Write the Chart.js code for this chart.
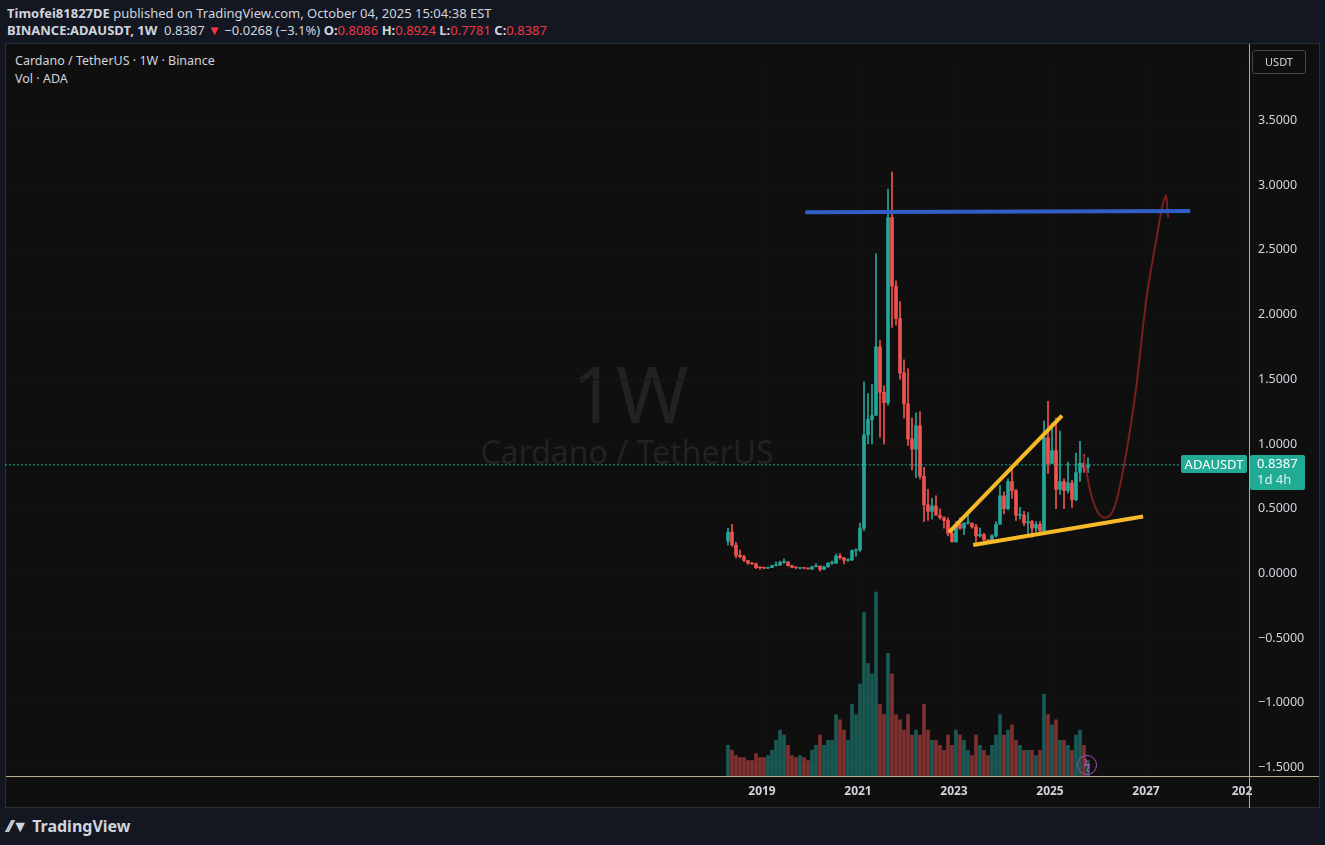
<!DOCTYPE html>
<html>
<head>
<meta charset="utf-8">
<script src="https://cdn.jsdelivr.net/npm/chart.js@4.4.0/dist/chart.umd.min.js"></script>
<style>
  body { margin: 0; background: #131722; font-family: "Noto Sans", "Open Sans", sans-serif; width: 1325px; height: 845px; overflow: hidden; position: relative; color: #d1d4dc; }
  .hdr { position: absolute; left: 7px; font-size: 13px; white-space: nowrap; }
  .hdr b { font-weight: 700; }
  .red { color: #f23645; }
  #panel { position: absolute; left: 5px; top: 43px; width: 1315px; height: 765px; background: #0f0f0f; border: 1px solid #2a2e39; box-sizing: border-box; }
  #wrap { position: absolute; left: 5px; top: 43px; width: 1315px; height: 765px; }
  .wm { position: absolute; color: #222222; text-align: center; white-space: nowrap; }
  .legend { position: absolute; left: 15px; font-size: 12.5px; color: #d1d4dc; }
  .tag { position: absolute; background: #22ab94; color: #fff; font-size: 13px; border-radius: 2px; }
  .vline { position: absolute; left: 1249px; top: 44px; width: 1px; height: 764px; background: #b7ad8a; }
  .hline { position: absolute; left: 6px; top: 776px; width: 1313px; height: 1px; background: #b7ad8a; }
</style>
</head>
<body>
<div class="hdr" style="top:4px"><b>Timofei81827DE</b> published on TradingView.com, October 04, 2025 15:04:38 EST</div>
<div class="hdr" style="top:21px"><b>BINANCE:ADAUSDT, 1W</b>&nbsp; 0.8387 <span class="red">▼</span> −0.0268 (−3.1%) <b>O:</b><span class="red">0.8086</span> <b>H:</b><span class="red">0.8924</span> <b>L:</b><span class="red">0.7781</span> <b>C:</b><span class="red">0.8387</span></div>
<div id="panel"></div>
<div class="wm" style="left:530px;top:340px;width:200px;font-size:78px;">1W</div>
<div class="wm" style="left:427px;top:430px;width:400px;font-size:32px;">Cardano / TetherUS</div>
<div class="legend" style="top:52px">Cardano / TetherUS · 1W · Binance</div>
<div class="legend" style="top:70px">Vol · ADA</div>
<div id="wrap"><canvas id="c"></canvas></div>
<div class="vline"></div>
<div class="hline"></div>
<div style="position:absolute;left:1252px;top:50px;width:52px;height:22px;border:1px solid #434651;border-radius:3px;font-size:11px;line-height:22px;text-align:center;color:#d1d4dc;">USDT</div>
<div class="tag" style="left:1181px;top:455px;width:66px;height:18px;line-height:18px;text-align:center;">ADAUSDT</div>
<div class="tag" style="left:1250px;top:455px;width:55px;height:35px;line-height:16px;padding-left:7px;box-sizing:border-box;">0.8387<br><span style="color:#d6f2ee">1d 4h</span></div>
<div style="position:absolute;left:1077px;top:755px;width:18px;height:18px;border:1.5px solid #a64bbd;border-radius:50%;color:#b95ad0;font-size:12px;line-height:18px;text-align:center;">ϟ</div>
<div style="position:absolute;left:8px;top:815px;font-size:16px;font-weight:700;color:#d1d4dc;">⁄⁄▼ TradingView</div>
<script>
// Monthly ADA/USDT candles, Apr 2018 .. Oct 2025 (open = previous close)
const firstOpen = 0.25;
const closes = [
  0.32, 0.22, 0.14, 0.13, 0.10, 0.08, 0.074, 0.045, 0.041,
  0.040, 0.045, 0.060, 0.065, 0.085, 0.090, 0.060, 0.046, 0.040, 0.040, 0.037, 0.033,
  0.052, 0.056, 0.032, 0.050, 0.080, 0.080, 0.134, 0.121, 0.101, 0.105, 0.176, 0.181,
  0.35, 1.07, 1.19, 1.22, 1.75, 1.40, 1.32, 2.75, 2.22, 1.97, 1.55, 1.31,
  1.04, 0.96, 1.14, 0.75, 0.53, 0.48, 0.52, 0.45, 0.43, 0.41, 0.31, 0.245,
  0.38, 0.35, 0.39, 0.39, 0.36, 0.29, 0.30, 0.26, 0.25, 0.29, 0.38, 0.60,
  0.50, 0.71, 0.64, 0.45, 0.45, 0.39, 0.40, 0.35, 0.38, 0.33, 1.05, 0.85,
  0.95, 0.65, 0.71, 0.64, 0.70, 0.57, 0.78, 0.85, 0.82, 0.8387
];
const highs = [
  0.35, 0.38, 0.24, 0.18, 0.14, 0.10, 0.086, 0.08, 0.05,
  0.05, 0.05, 0.065, 0.09, 0.096, 0.11, 0.09, 0.062, 0.05, 0.046, 0.047, 0.04,
  0.056, 0.076, 0.058, 0.057, 0.084, 0.098, 0.15, 0.153, 0.124, 0.115, 0.183, 0.19,
  0.39, 1.48, 1.39, 1.46, 2.47, 1.80, 1.45, 2.97, 3.10, 2.26, 2.10, 1.65,
  1.58, 1.20, 1.24, 1.25, 0.82, 0.65, 0.58, 0.60, 0.50, 0.44, 0.43, 0.33,
  0.40, 0.43, 0.39, 0.46, 0.39, 0.38, 0.35, 0.31, 0.26, 0.30, 0.40, 0.68,
  0.63, 0.73, 0.81, 0.65, 0.51, 0.48, 0.47, 0.41, 0.40, 0.40, 1.18, 1.33,
  1.16, 1.20, 1.10, 0.73, 0.86, 0.72, 0.93, 1.02, 0.92, 0.8924
];
const lows = [
  0.22, 0.21, 0.12, 0.12, 0.09, 0.07, 0.07, 0.037, 0.031,
  0.036, 0.038, 0.044, 0.058, 0.06, 0.077, 0.057, 0.043, 0.035, 0.034, 0.035, 0.031,
  0.032, 0.05, 0.018, 0.03, 0.048, 0.069, 0.078, 0.11, 0.073, 0.093, 0.099, 0.133,
  0.17, 0.33, 1.00, 1.00, 1.30, 1.05, 1.00, 1.30, 1.90, 1.92, 1.50, 1.20,
  0.99, 0.80, 0.74, 0.73, 0.40, 0.41, 0.42, 0.45, 0.42, 0.35, 0.29, 0.24,
  0.24, 0.34, 0.30, 0.38, 0.35, 0.22, 0.28, 0.24, 0.24, 0.24, 0.28, 0.38,
  0.46, 0.49, 0.58, 0.41, 0.42, 0.37, 0.30, 0.28, 0.32, 0.31, 0.32, 0.77,
  0.85, 0.50, 0.61, 0.50, 0.62, 0.51, 0.56, 0.71, 0.78, 0.7781
];
const volumes = [
  30, 25, 20, 18, 18, 15, 15, 22, 18,
  18, 20, 25, 35, 45, 40, 30, 20, 18, 20, 18, 15,
  25, 30, 40, 30, 35, 35, 60, 55, 45, 35, 70, 60,
  90, 160, 110, 100, 180, 70, 60, 120, 100, 60, 55, 45,
  60, 40, 45, 40, 70, 45, 35, 35, 30, 25, 40, 30,
  45, 40, 35, 25, 20, 40, 30, 25, 20, 30, 40, 60,
  40, 45, 50, 35, 30, 25, 25, 25, 20, 25, 80, 60,
  50, 55, 35, 35, 30, 25, 40, 45, 30, 15
];
const startMonth = 3; // April 2018
const yearTicks = [2019, 2021, 2023, 2025, 2027, 2029];
const yearLabels = ['2019', '2021', '2023', '2025', '2027', '202'];
const priceTicks = [-1.5, -1, -0.5, 0, 0.5, 1, 1.5, 2, 2.5, 3, 3.5];
const lastPrice = 0.8387;

// Drawings
const resistance = [{ x: 2019.9, y: 2.79 }, { x: 2027.92, y: 2.80 }];
const upperTrend = [{ x: 2022.9, y: 0.32 }, { x: 2025.25, y: 1.22 }];
const lowerTrend = [{ x: 2023.4, y: 0.22 }, { x: 2026.94, y: 0.44 }];
const forecast = [
  { x: 2025.69, y: 0.92 }, { x: 2025.85, y: 0.62 }, { x: 2026.0, y: 0.47 }, { x: 2026.15, y: 0.43 },
  { x: 2026.35, y: 0.52 }, { x: 2026.55, y: 0.85 }, { x: 2026.8, y: 1.45 }, { x: 2027.0, y: 2.1 },
  { x: 2027.2, y: 2.55 }, { x: 2027.35, y: 2.85 }, { x: 2027.42, y: 2.92 }, { x: 2027.46, y: 2.75 }
];

const X_MIN = 2003.229, X_MAX = 2029.125;
const UP = '#26a69a', DOWN = '#ef5350';

const t = closes.map((c, i) => 2018 + (startMonth + i) / 12 + 1 / 24);
const opens = closes.map((c, i) => i === 0 ? firstOpen : closes[i - 1]);
const isUp = closes.map((c, i) => c >= opens[i]);

const wicks = t.map((x, i) => ({ x, y: [lows[i], highs[i]] }));
const bodies = t.map((x, i) => {
  let a = opens[i], b = closes[i];
  if (Math.abs(a - b) < 0.006) b = a + 0.006;
  return { x, y: [a, b] };
});
const vols = t.map((x, i) => ({ x, y: volumes[i] }));

new Chart(document.getElementById('c'), {
  data: {
    datasets: [
      { type: 'bar', data: vols, yAxisID: 'vol', barThickness: 3, order: 10,
        backgroundColor: isUp.map(u => u ? 'rgba(38,166,154,0.5)' : 'rgba(239,83,80,0.5)') },
      { type: 'bar', data: wicks, yAxisID: 'y', barThickness: 1, grouped: false, order: 5,
        backgroundColor: isUp.map(u => u ? UP : DOWN) },
      { type: 'bar', data: bodies, yAxisID: 'y', barThickness: 3, grouped: false, order: 4,
        backgroundColor: isUp.map(u => u ? UP : DOWN) },
      { type: 'line', data: [{ x: X_MIN, y: lastPrice }, { x: X_MAX, y: lastPrice }], yAxisID: 'y',
        borderColor: '#22ab94', borderWidth: 1, borderDash: [2, 2], pointRadius: 0, order: 3 },
      { type: 'line', data: resistance, yAxisID: 'y', borderColor: '#2f5fc4', borderWidth: 4, pointRadius: 0, order: 1 },
      { type: 'line', data: upperTrend, yAxisID: 'y', borderColor: '#f7b928', borderWidth: 4, pointRadius: 0, order: 1 },
      { type: 'line', data: lowerTrend, yAxisID: 'y', borderColor: '#f7b928', borderWidth: 4, pointRadius: 0, order: 1 },
      { type: 'line', data: forecast, yAxisID: 'y', borderColor: '#7a1e22', borderWidth: 2, pointRadius: 0,
        cubicInterpolationMode: 'monotone', order: 1 }
    ]
  },
  options: {
    responsive: true,
    maintainAspectRatio: false,
    animation: false,
    layout: { padding: { top: 0, left: 0, right: 0, bottom: 0 } },
    plugins: { legend: { display: false }, tooltip: { enabled: false } },
    scales: {
      x: {
        type: 'linear', min: X_MIN, max: X_MAX, offset: false,
        afterBuildTicks: s => { s.ticks = yearTicks.map(v => ({ value: v })); },
        afterFit: s => { s.height = 32; },
        grid: { color: '#141414', drawTicks: false, offset: false },
        border: { display: false },
        ticks: { color: '#d1d4dc', font: { size: 12, weight: 'bold', family: 'Noto Sans' }, padding: 8,
          maxRotation: 0, callback: v => yearLabels[yearTicks.indexOf(v)] }
      },
      y: {
        position: 'right', min: -1.565, max: 3.963,
        afterBuildTicks: s => { s.ticks = priceTicks.map(v => ({ value: v })); },
        afterFit: s => { s.width = 72; },
        grid: { color: '#141414', drawTicks: false },
        border: { display: false },
        ticks: { color: '#d1d4dc', font: { size: 12.5, family: 'Noto Sans' }, padding: 10,
          callback: v => (v < 0 ? '−' : '') + Math.abs(v).toFixed(4) }
      },
      vol: { display: false, min: 0, max: 700 }
    }
  }
});
</script>
</body>
</html>
